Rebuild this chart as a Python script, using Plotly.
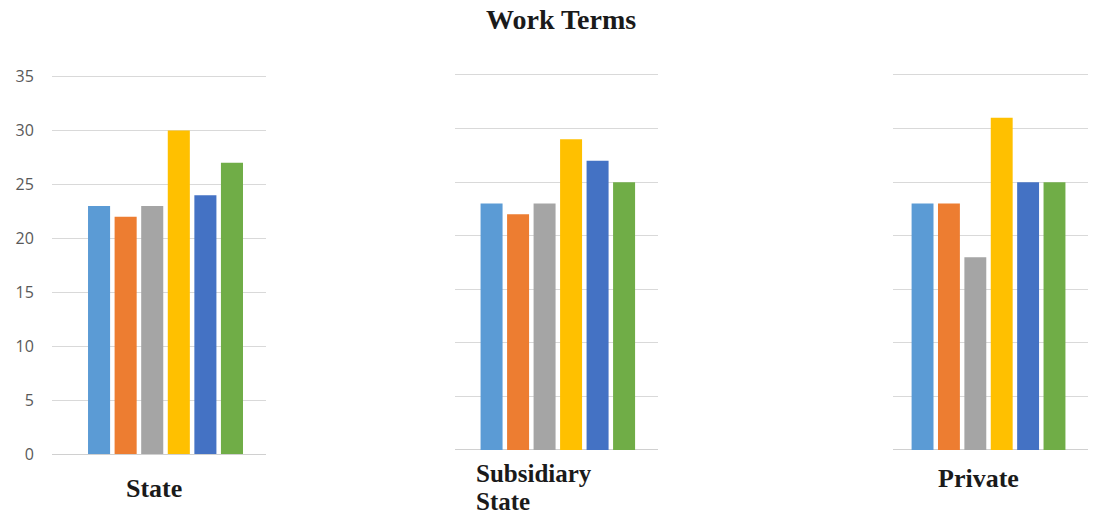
import plotly.graph_objects as go

# ---- data ----
groups = ["State", "Subsidiary<br>State", "Private"]
series = ["S1", "S2", "S3", "S4", "S5", "S6"]
state_vals = [23, 22, 23, 30, 24, 27]
subsidiary_vals = [23, 22, 23, 29, 27, 25]
private_vals = [23, 23, 18, 31, 25, 25]
colors = ["#5B9BD5", "#ED7D31", "#A5A5A5", "#FFC000", "#4472C4", "#70AD47"]
yticks = [0, 5, 10, 15, 20, 25, 30, 35]

W, H = 1094, 517
YTOP = 36.0
panels = [
    dict(vals=state_vals, x0=52, x1=266, yb=454, yt=76.5, rng=[-1.77, 6.28], show=True),
    dict(vals=subsidiary_vals, x0=455, x1=658, yb=450, yt=75, rng=[-1.38, 6.28], show=False),
    dict(vals=private_vals, x0=893, x1=1088, yb=450, yt=75, rng=[-1.12, 6.27], show=False),
]

fig = go.Figure()
layout = dict(
    width=W, height=H, margin=dict(l=0, r=0, t=0, b=0, autoexpand=False),
    paper_bgcolor="white", plot_bgcolor="white", showlegend=False, bargap=0.17,
)
for i, p in enumerate(panels):
    sfx = "" if i == 0 else str(i + 1)
    fig.add_trace(go.Bar(
        x=series, y=p["vals"], marker=dict(color=colors, line=dict(width=0)),
        xaxis="x" + sfx, yaxis="y" + sfx, hoverinfo="y",
    ))
    ppu = (p["yb"] - p["yt"]) / 35.0
    top_px = p["yb"] - YTOP * ppu
    layout["xaxis" + sfx] = dict(
        domain=[p["x0"] / W, p["x1"] / W], range=p["rng"], showticklabels=False,
        showgrid=False, zeroline=False, showline=False, ticks="",
        anchor="y" + sfx, fixedrange=True, automargin=False,
    )
    layout["yaxis" + sfx] = dict(
        domain=[(H - p["yb"]) / H, (H - top_px) / H], range=[0, YTOP],
        tickvals=yticks, showticklabels=p["show"], gridcolor="#D9D9D9", gridwidth=1,
        zeroline=True, zerolinecolor="#D0D0D0", zerolinewidth=1, showline=False,
        ticks="outside" if p["show"] else "", ticklen=14, tickcolor="rgba(0,0,0,0)",
        tickfont=dict(family="Open Sans, sans-serif", size=16, color="#595959"),
        anchor="x" + sfx, fixedrange=True, automargin=False,
    )
fig.update_layout(**layout)

def label(text, x, y, anchor="left", size=26):
    fig.add_annotation(text=text, x=x / W, y=1 - y / H, xref="paper", yref="paper",
                       xanchor=anchor, yanchor="middle", align="left", showarrow=False,
                       borderpad=0,
                       font=dict(family="Liberation Serif, serif", size=size, color="#1a1a1a"))

label("<b>Work Terms</b>", 561, 20, "center", 28)
label("<b>" + groups[0] + "</b>", 125, 488)
sub_lines = groups[1].split("<br>")
label("<b>" + sub_lines[0] + "</b>", 475, 473, size=25)
label("<b>" + sub_lines[1] + "</b>", 475, 501, size=25)
label("<b>" + groups[2] + "</b>", 937, 478)

fig.write_html("out.html", config={"displayModeBar": False})
